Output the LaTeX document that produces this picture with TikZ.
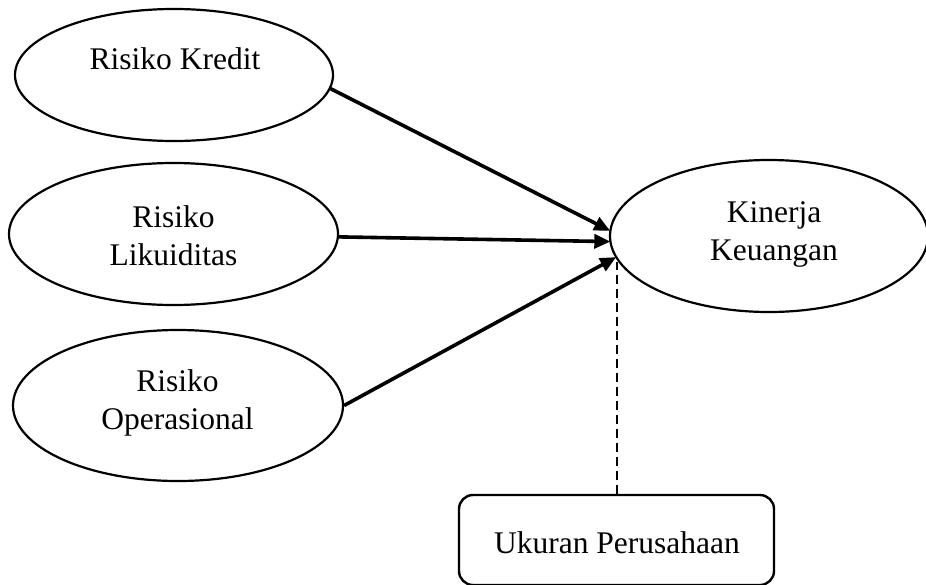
\documentclass[tikz,border=0pt]{standalone}
\usepackage{fontspec}
\setmainfont{Liberation Serif}
\usetikzlibrary{shapes.geometric,arrows.meta}
\begin{document}
\begin{tikzpicture}[x=1pt,y=-1pt,
  ell/.style={draw,ellipse,line width=2.2pt,inner sep=0pt},
  lbl/.style={font=\fontsize{31.5}{37.5}\selectfont,align=center,anchor=base,inner sep=0pt},
  arr/.style={line width=3.6pt,-{Triangle[length=16pt,width=14pt]},shorten >=-1pt},
  boxst/.style={draw,rounded corners=14pt,line width=2.4pt,minimum width=315pt,minimum height=90pt,inner sep=0pt}]
\useasboundingbox (0,0) rectangle (926,584);
\node[ell,minimum width=318pt,minimum height=132pt] (e1) at (174,75) {};
\node[ell,minimum width=329pt,minimum height=142pt] (e2) at (173.5,234) {};
\node[ell,minimum width=330pt,minimum height=151pt] (e3) at (178,405.5) {};
\node[ell,minimum width=318pt,minimum height=152pt] (e4) at (769,236) {};
\node[boxst] (b) at (616.5,540) {};
\node[lbl] (t1) at (175,69) {Risiko Kredit};
\node[lbl] (t2) at (173.5,265) {Risiko\\Likuiditas};
\node[lbl] (t3) at (177.5,429) {Risiko\\Operasional};
\node[lbl] (t4) at (774,260) {Kinerja\\Keuangan};
\node[lbl] (t5) at (617,553) {Ukuran Perusahaan};
\draw[arr] (e1.-5) -- (e4.178.5);
\draw[arr] (e2.-1.5) -- (e4.182.5);
\draw[arr] (e3.east) -- (e4.188);
\draw[line width=2pt,dash pattern=on 9pt off 5pt] (b.north) -- ++(0,-232);
\end{tikzpicture}
\end{document}
